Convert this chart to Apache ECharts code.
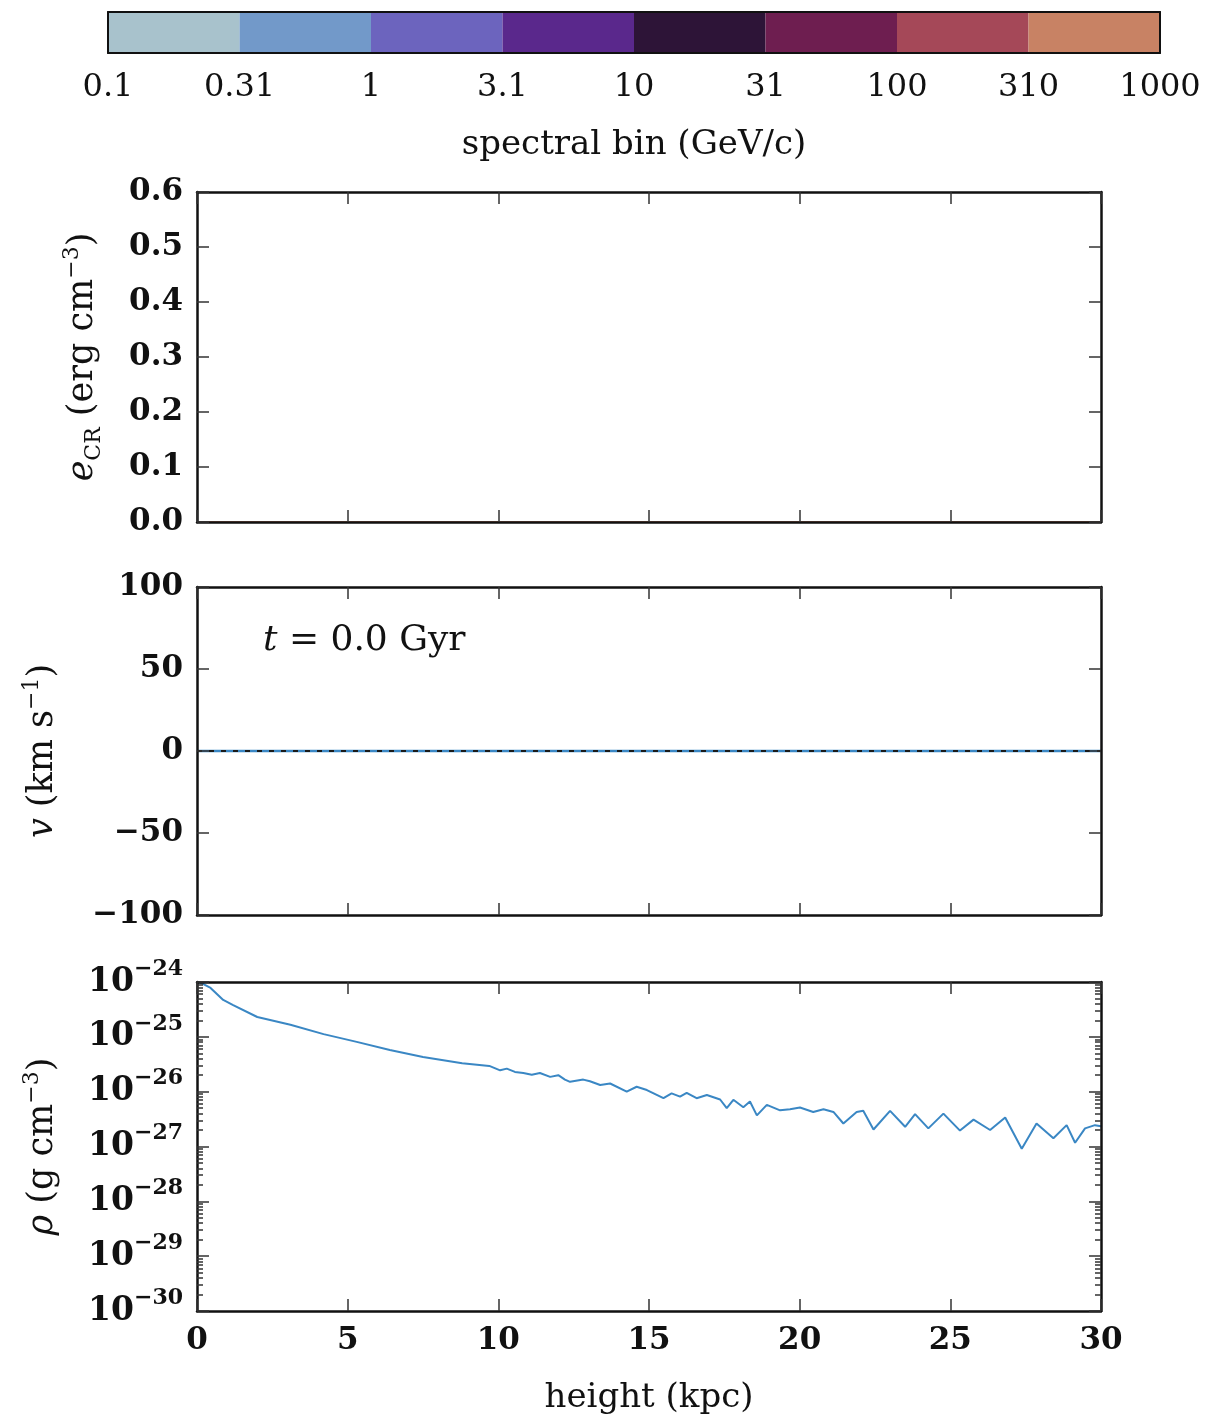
<!DOCTYPE html>
<html>
<head>
<meta charset="utf-8">
<title>CR profile, t = 0.0 Gyr</title>
<script src="https://cdn.jsdelivr.net/npm/echarts@6/dist/echarts.min.js"></script>
<style>
  html, body { margin: 0; padding: 0; background: #fff; }
  #chart { width: 1229px; height: 1419px; }
</style>
</head>
<body>
<div id="chart"></div>
<script>
// colorbar: spectral bin edges (GeV/c) and bin colours
const binEdgeLabels = ['0.1', '0.31', '1', '3.1', '10', '31', '100', '310', '1000']
const binColors = ['#a8c2cc', '#7299c9', '#6c64be', '#5a288c', '#2d1437', '#6e1e50', '#a54858', '#c88264']

// CR energy density per spectral bin (all zero at t = 0)
const crHeights = [0, 30]
const crEnergyByBin = [
  [0, 0], [0, 0], [0, 0], [0, 0],
  [0, 0], [0, 0], [0, 0], [0, 0]
]

// velocity profile (km/s)
const velHeights = [0, 5, 10, 15, 20, 25, 30]
const velocity = [0, 0, 0, 0, 0, 0, 0]
const velocityRef = [0, 0, 0, 0, 0, 0, 0]

// gas density profile (g/cm^3)
const rhoHeights = [
  0.0, 0.15, 0.45, 0.87, 1.2, 2.0, 3.1, 4.2, 5.3, 6.4, 7.5, 8.8, 9.7,
  10.06, 10.28, 10.55, 10.83, 11.11, 11.38, 11.72, 11.99, 12.21, 12.38, 12.82,
  13.04, 13.38, 13.71, 14.26, 14.59, 14.93, 15.48, 15.75, 16.03, 16.25, 16.58,
  16.92, 17.36, 17.58, 17.8, 18.13, 18.35, 18.58, 18.91, 19.35, 19.68, 20.01,
  20.45, 20.79, 21.12, 21.45, 21.89, 22.11, 22.45, 23.0, 23.5, 23.83, 24.27,
  24.77, 25.32, 25.77, 26.32, 26.82, 27.37, 27.86, 28.42, 28.86, 29.14, 29.47,
  29.8, 30.0
]
const rhoValues = [
  1.02e-24, 9.5e-25, 7.8e-25, 4.7e-25, 3.8e-25, 2.3e-25, 1.66e-25, 1.12e-25, 8.1e-26, 5.75e-26, 4.27e-26, 3.31e-26, 2.95e-26,
  2.45e-26, 2.63e-26, 2.29e-26, 2.19e-26, 2.04e-26, 2.19e-26, 1.86e-26, 2.0e-26, 1.66e-26, 1.51e-26, 1.66e-26,
  1.55e-26, 1.32e-26, 1.41e-26, 1.0e-26, 1.23e-26, 1.07e-26, 7.6e-27, 9.3e-27, 8.1e-27, 9.5e-27, 7.6e-27,
  8.7e-27, 7.2e-27, 5.0e-27, 7.1e-27, 5.2e-27, 6.6e-27, 3.7e-27, 5.75e-27, 4.57e-27, 4.79e-27, 5.13e-27,
  4.27e-27, 4.79e-27, 4.27e-27, 2.63e-27, 4.27e-27, 4.47e-27, 2.04e-27, 4.47e-27, 2.29e-27, 3.89e-27, 2.14e-27,
  3.98e-27, 1.95e-27, 3.09e-27, 2.0e-27, 3.39e-27, 9.1e-28, 2.63e-27, 1.41e-27, 2.45e-27, 1.17e-27, 2.14e-27,
  2.45e-27, 2.34e-27
]

// log-axis ticks, as decade exponents (10^-30 .. 10^-24)
const rhoDecadeMin = -30
const rhoDecadeMax = -24
const rhoMinorExp = []
for (let e = rhoDecadeMin; e < rhoDecadeMax; e++) {
  for (let k = 2; k <= 9; k++) rhoMinorExp.push(e + Math.log10(k))
}

const serif = 'DejaVu Serif'
const ink = '#111'
const lineBlue = '#3a87c4'

const frameLine = (w) => ({ show: true, onZero: false, lineStyle: { color: ink, width: w } })
const inTicks = (len) => ({ show: true, inside: true, length: len, lineStyle: { color: '#333', width: 1.5 } })
const tickFont = { fontFamily: serif, fontSize: 31, fontWeight: 'bold', color: ink }
const nameRich = {
  n: { fontFamily: serif, fontSize: 35, color: ink, lineHeight: 44 },
  i: { fontFamily: serif, fontSize: 35, fontStyle: 'italic', color: ink, lineHeight: 44 },
  sup: { fontFamily: serif, fontSize: 22, color: ink, lineHeight: 22, verticalAlign: 'top' },
  sub: { fontFamily: serif, fontSize: 22, color: ink, lineHeight: 22, verticalAlign: 'bottom' }
}

const panelTops = [192, 587, 982]
const panelHeights = [330, 328, 329]

const grids = [
  { left: 108, top: 12, width: 1052, height: 41 }
].concat(panelTops.map((t, i) => ({ left: 197, top: t, width: 904, height: panelHeights[i] })))
grids.forEach(g => { g.containLabel = false; g.outerBoundsMode = 'none'; g.show = false })

// x axes: colorbar bottom/top, then bottom/top for each panel
const xAxes = [
  {
    gridIndex: 0, type: 'value', min: 0, max: 8, interval: 1, position: 'bottom', z: 5,
    axisLine: frameLine(2), axisTick: { show: false }, splitLine: { show: false },
    axisLabel: {
      margin: 19, showMinLabel: true, showMaxLabel: true,
      formatter: v => binEdgeLabels[Math.round(v)],
      fontFamily: serif, fontSize: 32, color: ink
    },
    name: 'spectral bin (GeV/c)', nameLocation: 'middle', nameGap: 75,
    nameTextStyle: { fontFamily: serif, fontSize: 34, color: ink }
  },
  {
    gridIndex: 0, type: 'value', min: 0, max: 8, position: 'top', z: 5,
    axisLine: frameLine(2), axisTick: { show: false }, axisLabel: { show: false }, splitLine: { show: false }
  }
]
for (let p = 1; p <= 3; p++) {
  const last = p === 3
  xAxes.push({
    gridIndex: p, type: 'value', min: 0, max: 30, interval: 5, position: 'bottom', z: 5,
    axisLine: frameLine(2.5), axisTick: inTicks(12), splitLine: { show: false },
    axisLabel: last
      ? Object.assign({ margin: 14, showMinLabel: true, showMaxLabel: true, formatter: v => String(v) }, tickFont)
      : { show: false },
    name: last ? 'height (kpc)' : '', nameLocation: 'middle', nameGap: 70,
    nameTextStyle: { fontFamily: serif, fontSize: 34, color: ink }
  })
  xAxes.push({
    gridIndex: p, type: 'value', min: 0, max: 30, interval: 5, position: 'top', z: 5,
    axisLine: frameLine(2.5), axisTick: inTicks(12), axisLabel: { show: false }, splitLine: { show: false }
  })
}

const expLabel = v => '{b|10}{s|−' + Math.round(-v) + '}'

const yAxes = [
  { gridIndex: 0, type: 'category', data: ['bins'], position: 'left', z: 5, axisLine: frameLine(2), axisTick: { show: false }, axisLabel: { show: false } },
  { gridIndex: 0, type: 'category', data: ['bins'], position: 'right', z: 5, axisLine: frameLine(2), axisTick: { show: false }, axisLabel: { show: false } },
  // panel 1: CR energy density
  {
    gridIndex: 1, type: 'value', min: 0, max: 0.6, interval: 0.1, position: 'left', z: 5,
    axisLine: frameLine(2.5), axisTick: inTicks(12), splitLine: { show: false },
    axisLabel: Object.assign({ margin: 14, showMinLabel: true, showMaxLabel: true, formatter: v => v.toFixed(1) }, tickFont),
    name: '{i|e}{sub|CR}{n| (erg cm}{sup|−3}{n|)}', nameLocation: 'middle', nameGap: 92,
    nameTextStyle: { rich: nameRich }
  },
  {
    gridIndex: 1, type: 'value', min: 0, max: 0.6, interval: 0.1, position: 'right', z: 5,
    axisLine: frameLine(2.5), axisTick: inTicks(12), axisLabel: { show: false }, splitLine: { show: false }
  },
  // panel 2: velocity
  {
    gridIndex: 2, type: 'value', min: -100, max: 100, interval: 50, position: 'left', z: 5,
    axisLine: frameLine(2.5), axisTick: inTicks(12), splitLine: { show: false },
    axisLabel: Object.assign({ margin: 14, showMinLabel: true, showMaxLabel: true, formatter: v => String(v).replace('-', '−') }, tickFont),
    name: '{i|v}{n| (km s}{sup|−1}{n|)}', nameLocation: 'middle', nameGap: 132,
    nameTextStyle: { rich: nameRich }
  },
  {
    gridIndex: 2, type: 'value', min: -100, max: 100, interval: 50, position: 'right', z: 5,
    axisLine: frameLine(2.5), axisTick: inTicks(12), axisLabel: { show: false }, splitLine: { show: false }
  },
  // panel 3: density, log scale used by the series (axis itself hidden)
  {
    gridIndex: 3, type: 'log', logBase: 10, min: 1e-30, max: 1e-24, position: 'left',
    axisLine: { show: false }, axisTick: { show: false }, axisLabel: { show: false }, splitLine: { show: false }
  },
  // panel 3 decade ticks / labels (same range in exponent space)
  {
    gridIndex: 3, type: 'value', min: rhoDecadeMin, max: rhoDecadeMax, interval: 1, position: 'left', z: 5,
    axisLine: frameLine(2.5), axisTick: inTicks(12), splitLine: { show: false },
    axisLabel: {
      margin: 14, showMinLabel: true, showMaxLabel: true, formatter: expLabel,
      rich: {
        b: { fontFamily: serif, fontSize: 33, fontWeight: 'bold', color: ink, lineHeight: 48 },
        s: { fontFamily: serif, fontSize: 22, fontWeight: 'bold', color: ink, lineHeight: 20, verticalAlign: 'top' }
      }
    },
    name: '{i|ρ}{n| (g cm}{sup|−3}{n|)}', nameLocation: 'middle', nameGap: 132,
    nameTextStyle: { rich: nameRich }
  },
  {
    gridIndex: 3, type: 'value', min: rhoDecadeMin, max: rhoDecadeMax, position: 'left', z: 5,
    axisLine: { show: false }, axisTick: Object.assign(inTicks(6), { customValues: rhoMinorExp }),
    axisLabel: { show: false }, splitLine: { show: false }
  },
  {
    gridIndex: 3, type: 'value', min: rhoDecadeMin, max: rhoDecadeMax, interval: 1, position: 'right', z: 5,
    axisLine: frameLine(2.5), axisTick: inTicks(12), axisLabel: { show: false }, splitLine: { show: false }
  },
  {
    gridIndex: 3, type: 'value', min: rhoDecadeMin, max: rhoDecadeMax, position: 'right', z: 5,
    axisLine: { show: false }, axisTick: Object.assign(inTicks(6), { customValues: rhoMinorExp }),
    axisLabel: { show: false }, splitLine: { show: false }
  }
]

const series = []
// colorbar blocks
binColors.forEach((c) => {
  series.push({
    type: 'bar', xAxisIndex: 0, yAxisIndex: 0, stack: 'cbar', barWidth: '100%', silent: true,
    data: [1], itemStyle: { color: c }
  })
})
// CR energy per bin
crEnergyByBin.forEach((vals, i) => {
  series.push({
    type: 'line', xAxisIndex: 2, yAxisIndex: 2, showSymbol: false, z: 1,
    data: crHeights.map((h, j) => [h, vals[j]]),
    lineStyle: { color: binColors[i], width: 2 }
  })
})
// velocity
series.push({
  type: 'line', xAxisIndex: 4, yAxisIndex: 4, showSymbol: false,
  data: velHeights.map((h, j) => [h, velocity[j]]),
  lineStyle: { color: lineBlue, width: 2.5 }
})
series.push({
  type: 'line', xAxisIndex: 4, yAxisIndex: 4, showSymbol: false,
  data: velHeights.map((h, j) => [h, velocityRef[j]]),
  lineStyle: { color: '#1a1a1a', width: 1.8, type: [5, 7] }
})
// density
series.push({
  type: 'line', xAxisIndex: 6, yAxisIndex: 6, showSymbol: false,
  data: rhoHeights.map((h, j) => [h, rhoValues[j]]),
  lineStyle: { color: lineBlue, width: 2 }
})

const chart = echarts.init(document.getElementById('chart'))
chart.setOption({
  animation: false,
  backgroundColor: '#fff',
  title: {
    text: '{i|t}{n| = 0.0 Gyr}', left: 258, top: 618,
    textStyle: {
      fontWeight: 'normal',
      rich: {
        i: { fontFamily: serif, fontSize: 36, fontStyle: 'italic', fontWeight: 'normal', color: ink },
        n: { fontFamily: serif, fontSize: 36, fontWeight: 'normal', color: ink }
      }
    }
  },
  grid: grids,
  xAxis: xAxes,
  yAxis: yAxes,
  series: series
})
</script>
</body>
</html>
